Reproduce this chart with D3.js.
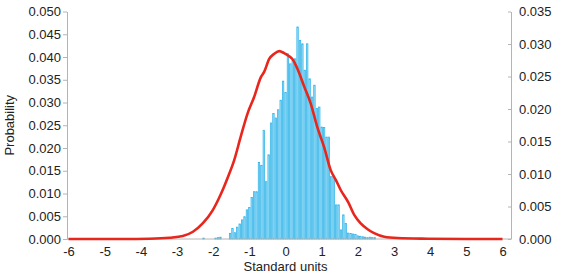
<!DOCTYPE html>
<html>
<head>
<meta charset="utf-8">
<script src="https://cdn.jsdelivr.net/npm/d3@7"></script>
<style>
  body { margin: 0; background: #fff; }
  text { font-family: "Liberation Sans", Arial, sans-serif; fill: #222; }
  .axis path, .axis line { stroke: #b4b4b4; }
</style>
</head>
<body>
<div id="chart"></div>
<script>
// histogram: bins of 1/15 standard unit, first bin centred at firstBin/15
var firstBin = -34;
var binWidth = 1 / 15;
var histValues = [
  0.0002, 0, 0, 0, 0, 0.0002, 0.0003, 0.0004, 0, 0, 0,
  0.00125, 0.0023, 0.0014, 0.0026, 0.0033, 0.0042, 0.0049, 0.0064, 0.0069,
  0.0091, 0.0104, 0.0104, 0.0168, 0.0162, 0.0239, 0.0126, 0.0185, 0.0255,
  0.0276, 0.0266, 0.0284, 0.0305, 0.0347, 0.0322,
  0.0407, 0.0385, 0.0394, 0.0396, 0.0466, 0.0436, 0.0429, 0.0371, 0.0429,
  0.0352, 0.0312, 0.0338, 0.0287, 0.029, 0.0246, 0.0245, 0.0224, 0.0224,
  0.0137, 0.0137, 0.0075, 0.0075, 0.002, 0.0053, 0.0034, 0.0013, 0.0012,
  0.0011, 0.001, 0.0007, 0.0006, 0.0005, 0.0004, 0.0003, 0.0004, 0.0003, 0.0003
];

// red curve (right axis)
var curveX = [-6, -5, -4.5, -3.76, -3.21, -2.84, -2.56, -2.29, -2.01, -1.78, -1.58, -1.42,
  -1.24, -1.05, -0.87, -0.68, -0.59, -0.45, -0.31, -0.17, -0.04, 0.08, 0.19,
  0.33, 0.52, 0.70, 0.88, 1.07, 1.25, 1.39, 1.53, 1.74, 1.90, 2.08, 2.27,
  2.45, 2.73, 3.10, 3.93, 5, 6];
var curveY = [0, 0, 0, 0.00005, 0.0002, 0.00046, 0.00112, 0.0024, 0.00445, 0.007, 0.0097, 0.0121,
  0.0157, 0.0193, 0.0218, 0.0249, 0.0257, 0.0277, 0.0285, 0.0289, 0.0286, 0.0282, 0.0277,
  0.0262, 0.0234, 0.0208, 0.0172, 0.0141, 0.0106, 0.0091, 0.0075, 0.0056, 0.0037, 0.0024, 0.0015,
  0.0009, 0.00035, 0.00015, 0.00005, 0, 0];

var xTicks = [-6, -5, -4, -3, -2, -1, 0, 1, 2, 3, 4, 5, 6];
var leftTicks = [0, 0.005, 0.01, 0.015, 0.02, 0.025, 0.03, 0.035, 0.04, 0.045, 0.05];
var rightTicks = [0, 0.005, 0.01, 0.015, 0.02, 0.025, 0.03, 0.035];

var svgWidth = 570;
var svgHeight = 278;
var margin = { top: 11.5, right: 59, bottom: 39, left: 67 };
var width = svgWidth - margin.left - margin.right;
var height = svgHeight - margin.top - margin.bottom;

var svg = d3.select("#chart").append("svg")
  .attr("width", svgWidth)
  .attr("height", svgHeight);

var g = svg.append("g")
  .attr("transform", `translate(${margin.left}, ${margin.top})`);

var xScale = d3.scaleLinear().domain([-6, 6]).range([1.5, 435.5]);
var yLeft = d3.scaleLinear().domain([0, 0.05]).range([height, 0]);
var yRight = d3.scaleLinear().domain([0, 0.035]).range([height, 0]);

// bars
var bins = histValues.map((v, i) => ({ c: (firstBin + i) * binWidth, v: v }))
  .filter((d) => d.v > 0);
var bw = xScale(binWidth) - xScale(0);

g.append("g").selectAll("rect")
  .data(bins)
  .enter()
  .append("rect")
  .attr("x", (d) => xScale(d.c) - bw / 2 + 0.5)
  .attr("y", (d) => yLeft(d.v))
  .attr("width", bw - 1)
  .attr("height", (d) => height - yLeft(d.v))
  .attr("fill", "#a8e0f7")
  .attr("stroke", "#2cb3e9")
  .attr("stroke-width", 0.75);

// axes
var leftAxis = d3.axisLeft(yLeft).tickValues(leftTicks).tickFormat(d3.format(".3f"))
  .tickSizeInner(4).tickSizeOuter(0).tickPadding(2);
g.append("g").attr("class", "axis").call(leftAxis)
  .selectAll("text").style("font-size", "13px");

var rightAxis = d3.axisRight(yRight).tickValues(rightTicks).tickFormat(d3.format(".3f"))
  .tickSizeInner(-3).tickSizeOuter(0).tickPadding(8);
g.append("g").attr("class", "axis")
  .attr("transform", `translate(${width}, 0)`)
  .call(rightAxis)
  .selectAll("text").style("font-size", "13px");

g.append("line")
  .attr("x1", 0).attr("x2", width)
  .attr("y1", height).attr("y2", height)
  .attr("stroke", "#b4b4b4");

var bottomAxis = d3.axisBottom(xScale).tickValues(xTicks).tickFormat(d3.format("d"))
  .tickSize(0).tickPadding(8);
var xAxis = g.append("g").attr("class", "axis")
  .attr("transform", `translate(0, ${height})`)
  .call(bottomAxis);
xAxis.select(".domain").remove();
xAxis.selectAll("text").style("font-size", "13px").text((d) => d < 0 ? "-" + Math.abs(d) : d);

// red curve
var line = d3.line()
  .x((d) => xScale(d[0]))
  .y((d) => yRight(d[1]))
  .curve(d3.curveMonotoneX);

g.append("path")
  .datum(curveX.map((x, i) => [x, curveY[i]]))
  .attr("d", line)
  .attr("fill", "none")
  .attr("stroke", "#e8261c")
  .attr("stroke-width", 2.6);

// axis titles
g.append("text")
  .attr("x", xScale(0))
  .attr("y", height + 32)
  .attr("text-anchor", "middle")
  .style("font-size", "13px")
  .text("Standard units");

g.append("text")
  .attr("transform", `rotate(-90) translate(${-height / 2}, ${-53})`)
  .attr("text-anchor", "middle")
  .style("font-size", "13px")
  .text("Probability");
</script>
</body>
</html>
